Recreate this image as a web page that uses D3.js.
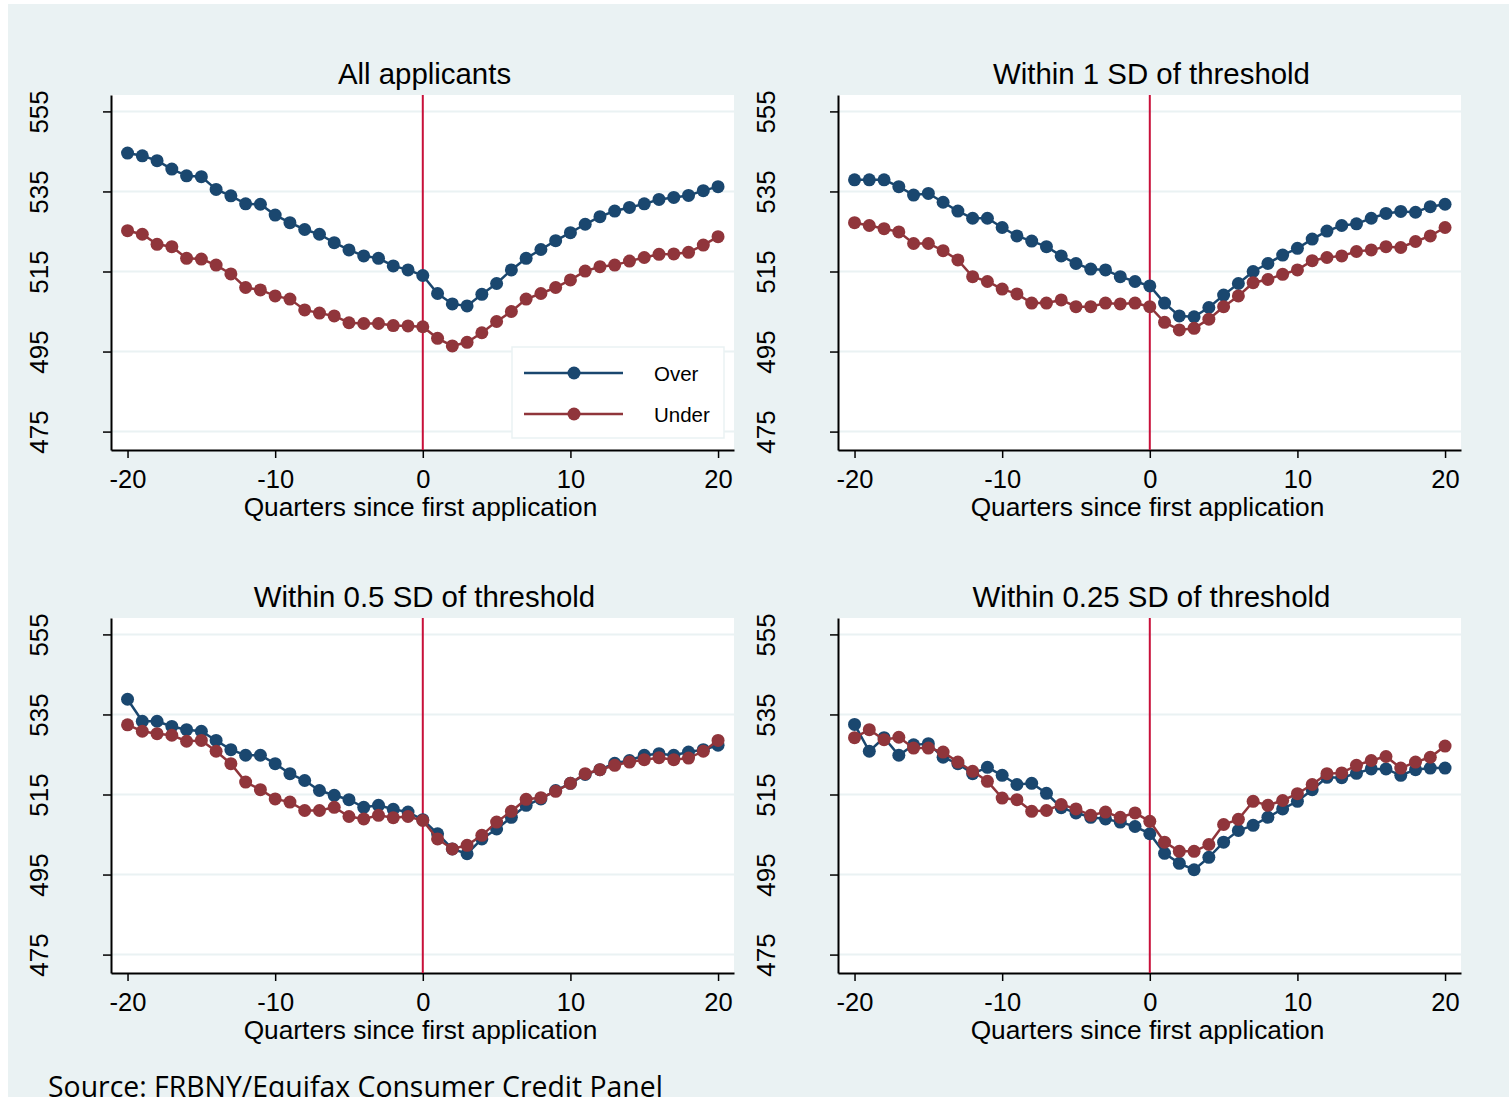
<!DOCTYPE html>
<html>
<head>
<meta charset="utf-8">
<script src="https://cdn.jsdelivr.net/npm/d3@7"></script>
<style>
  body { margin: 0; background: #fff; }
  svg { display: block; font-family: "Liberation Sans", Arial, sans-serif; }
</style>
</head>
<body>
<div id="chart"></div>
<script>
// Credit score around first application, four samples (Over vs Under threshold)
const quarters = d3.range(-20, 21);
const xTicks = [-20, -10, 0, 10, 20];
const yTicks = [475, 495, 515, 535, 555];
const titles = ["All applicants", "Within 1 SD of threshold",
                "Within 0.5 SD of threshold", "Within 0.25 SD of threshold"];
const seriesNames = ["Over", "Under"];

const allOver = [544.6, 543.9, 542.7, 540.6, 538.9, 538.7, 535.5, 533.9, 531.9, 531.8,
  529.1, 527.2, 525.5, 524.3, 522.2, 520.4, 518.9, 518.3, 516.4, 515.4,
  514.0, 509.5, 506.9, 506.4, 509.3, 512.0, 515.4, 518.3, 520.5, 522.7,
  524.7, 526.8, 528.7, 530.1, 531.0, 531.9, 533.0, 533.5, 534.0, 535.2, 536.2];
const allUnder = [525.2, 524.3, 521.8, 521.2, 518.3, 518.1, 516.6, 514.4, 511.0, 510.4,
  508.9, 508.1, 505.4, 504.6, 503.9, 502.2, 502.0, 502.0, 501.5, 501.4,
  501.2, 498.3, 496.4, 497.3, 499.7, 502.5, 505.0, 508.1, 509.5, 511.0,
  512.9, 515.1, 516.2, 516.6, 517.6, 518.5, 519.3, 519.4, 519.8, 521.6, 523.7];

const sd1Over = [537.9, 537.9, 537.9, 536.2, 534.1, 534.5, 532.3, 530.1, 528.3, 528.3,
  526.0, 523.9, 522.6, 521.2, 518.9, 517.0, 515.6, 515.4, 513.7, 512.5,
  511.4, 507.1, 503.9, 503.7, 506.0, 509.1, 512.0, 515.0, 517.0, 519.1,
  520.8, 523.1, 525.1, 526.5, 526.9, 528.3, 529.5, 530.0, 529.8, 531.2, 531.8];
const sd1Under = [527.2, 526.5, 525.7, 524.9, 522.0, 522.0, 520.2, 517.9, 513.7, 512.5,
  510.6, 509.4, 507.1, 507.1, 507.9, 506.2, 506.2, 507.1, 506.9, 507.1,
  506.2, 502.3, 500.4, 500.8, 503.1, 506.2, 508.9, 512.2, 513.0, 514.3,
  515.4, 517.7, 518.5, 518.9, 520.0, 520.4, 521.2, 521.0, 522.5, 523.9, 526.0];

const sd05Over = [538.8, 533.3, 533.3, 532.0, 531.2, 530.8, 528.5, 526.2, 524.8, 524.8,
  522.7, 520.2, 518.5, 516.0, 514.8, 513.7, 511.8, 512.3, 511.3, 510.6,
  508.7, 505.2, 501.4, 500.2, 503.9, 506.4, 509.3, 512.3, 513.9, 516.0,
  517.8, 520.0, 521.2, 522.8, 523.5, 524.8, 525.2, 524.8, 525.6, 526.2, 527.3];
const sd05Under = [532.4, 530.8, 530.2, 529.8, 528.3, 528.5, 525.8, 522.7, 518.1, 516.2,
  513.9, 513.1, 511.0, 511.0, 511.8, 509.5, 508.9, 509.8, 509.2, 509.5,
  508.5, 503.9, 501.4, 502.3, 504.8, 508.1, 510.8, 513.8, 514.2, 515.8,
  517.8, 520.2, 521.2, 522.3, 523.1, 523.7, 524.2, 523.7, 524.1, 525.8, 528.5];

const sd025Over = [532.5, 525.8, 529.2, 524.8, 527.4, 527.7, 524.3, 522.7, 520.2, 521.8,
  519.8, 517.5, 517.8, 515.3, 511.7, 510.4, 509.3, 508.9, 508.1, 507.0,
  505.2, 500.3, 497.8, 496.2, 499.3, 503.1, 506.0, 507.3, 509.3, 511.4,
  513.3, 516.2, 519.3, 519.2, 520.3, 521.4, 521.4, 519.8, 521.2, 521.6, 521.6];
const sd025Under = [529.2, 531.2, 528.7, 529.3, 526.6, 526.6, 525.6, 523.1, 520.8, 518.3,
  514.1, 513.7, 510.8, 511.0, 512.5, 511.4, 509.8, 510.6, 509.3, 510.4,
  508.3, 503.1, 500.8, 500.8, 502.5, 507.5, 508.8, 513.3, 512.3, 513.5,
  515.2, 517.5, 520.2, 520.4, 522.3, 523.5, 524.5, 521.6, 523.1, 524.3, 527.1];

const W = 1509, H = 1097;
const BG = "#eaf2f3", NAVY = "#1a476f", MAROON = "#90353b", REF = "#c8103a";
const colors = [NAVY, MAROON];

const svg = d3.select("#chart").append("svg").attr("width", W).attr("height", H);
svg.append("rect").attr("x", 8).attr("y", 4).attr("width", W - 8).attr("height", H - 4).attr("fill", BG);

// one panel frame; other panels are shifted copies
const pL = 111, pR = 734, pT = 95, pB = 450;
const x = d3.scaleLinear().domain([-21.12, 21.08]).range([pL, pR]);
const y = d3.scaleLinear().domain([470.4, 559.1]).range([pB, pT]);

const panels = [
  { title: titles[0], series: [allOver, allUnder], ox: 0, oy: 0, legend: true },
  { title: titles[1], series: [sd1Over, sd1Under], ox: 727, oy: 0 },
  { title: titles[2], series: [sd05Over, sd05Under], ox: 0, oy: 523 },
  { title: titles[3], series: [sd025Over, sd025Under], ox: 727, oy: 523 }
];

const line = d3.line().x((d, i) => x(quarters[i])).y(d => y(d));

panels.forEach(p => {
  const g = svg.append("g").attr("transform", `translate(${p.ox},${p.oy})`);

  g.append("rect").attr("x", pL).attr("y", pT)
    .attr("width", pR - pL).attr("height", pB - pT).attr("fill", "#fff");

  g.selectAll(".grid").data(yTicks).join("line")
    .attr("x1", pL).attr("x2", pR)
    .attr("y1", d => y(d)).attr("y2", d => y(d))
    .attr("stroke", BG).attr("stroke-width", 2);

  // y axis with rotated labels
  const ya = g.append("g").attr("transform", `translate(${pL},0)`)
    .call(d3.axisLeft(y).tickValues(yTicks).tickSize(8).tickSizeOuter(0).tickFormat(d => String(d)));
  ya.select(".domain").attr("stroke-width", 2);
  ya.selectAll(".tick line").attr("stroke-width", 1.5);
  ya.selectAll(".tick text")
    .attr("x", 0).attr("dy", null).attr("text-anchor", "middle")
    .attr("transform", `translate(${48 - pL},0) rotate(-90)`)
    .attr("font-size", 26).attr("font-family", "Liberation Sans, Arial, sans-serif").attr("fill", "#000");

  const xa = g.append("g").attr("transform", `translate(0,${pB})`)
    .call(d3.axisBottom(x).tickValues(xTicks).tickSize(8).tickSizeOuter(0).tickFormat(d => String(d)));
  xa.select(".domain").attr("stroke-width", 2);
  xa.selectAll(".tick line").attr("stroke-width", 1.5);
  xa.selectAll(".tick text").attr("y", 20)
    .attr("font-size", 25.5).attr("font-family", "Liberation Sans, Arial, sans-serif").attr("fill", "#000");

  g.append("text").attr("x", (pL + pR) / 2 - 2).attr("y", 516)
    .attr("text-anchor", "middle").attr("font-size", 26.3)
    .text("Quarters since first application");

  g.append("text").attr("x", (pL + pR) / 2 + 2).attr("y", 84)
    .attr("text-anchor", "middle").attr("font-size", 29.4)
    .text(p.title);

  // reference line at first application
  g.append("line").attr("x1", x(0)).attr("x2", x(0)).attr("y1", pT).attr("y2", pB)
    .attr("stroke", REF).attr("stroke-width", 2);

  p.series.forEach((vals, k) => {
    const s = g.append("g");
    s.append("path").datum(vals).attr("d", line)
      .attr("fill", "none").attr("stroke", colors[k]).attr("stroke-width", 2.5);
    s.selectAll("circle").data(vals).join("circle")
      .attr("cx", (d, i) => x(quarters[i])).attr("cy", d => y(d))
      .attr("r", 6.5).attr("fill", colors[k]);
  });

  if (p.legend) {
    const lg = g.append("g");
    lg.append("rect").attr("x", 512).attr("y", 347).attr("width", 212).attr("height", 91)
      .attr("fill", "#fff").attr("stroke", BG).attr("stroke-width", 1.5);
    seriesNames.forEach((name, k) => {
      const ly = 373 + k * 41;
      lg.append("line").attr("x1", 524).attr("x2", 623).attr("y1", ly).attr("y2", ly)
        .attr("stroke", colors[k]).attr("stroke-width", 2.5);
      lg.append("circle").attr("cx", 574).attr("cy", ly).attr("r", 6.5).attr("fill", colors[k]);
      lg.append("text").attr("x", 654).attr("y", ly + 7.5).attr("font-size", 20.5).text(name);
    });
  }
});

svg.append("text").attr("x", 48).attr("y", 1097)
  .attr("font-family", "'Open Sans', Lato, sans-serif").attr("font-size", 28.4)
  .text("Source: FRBNY/Equifax Consumer Credit Panel");
</script>
</body>
</html>
